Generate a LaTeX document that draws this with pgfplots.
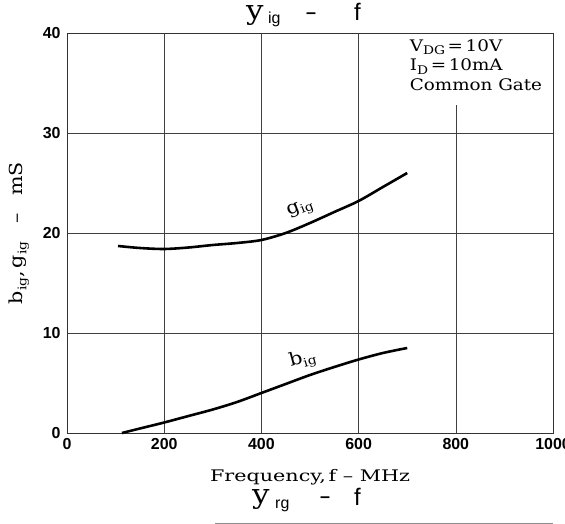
\documentclass[border=0pt]{standalone}
\usepackage{fontspec}
\setmainfont{DejaVu Serif}[FakeStretch=1.15]
\setsansfont{Liberation Sans}
\usepackage{pgfplots}
\pgfplotsset{compat=1.18}

\newcommand\sub[1]{\raisebox{-0.4ex}{\fontsize{12}{12}\selectfont #1}}

\begin{document}
\begin{tikzpicture}
\useasboundingbox (0,0) rectangle (565bp,524bp);
\begin{axis}[
    at={(67bp,91bp)}, anchor=south west,
    scale only axis,
    width=486bp, height=400bp,
    xmin=0, xmax=1000, ymin=0, ymax=40,
    xtick={0,200,...,1000}, ytick={0,10,...,40},
    grid=major,
    major grid style={black!75, line width=0.6pt},
    axis line style={black!80, line width=0.7pt},
    major tick length=0pt,
    tick label style={font=\sffamily\bfseries\fontsize{16}{16}\selectfont},
    /pgf/number format/assume math mode=true,
    /pgf/number format/1000 sep={},
    xticklabel style={yshift=-2bp},
    yticklabel style={xshift=-3bp},
    clip=false]

    % g_ig
    \addplot[black, line width=2.6pt, smooth] coordinates {
        (105,18.7) (150,18.5) (200,18.4) (250,18.55) (300,18.8) (350,19.0)
        (400,19.3) (450,20.0) (500,21.0) (550,22.1) (600,23.2) (650,24.6) (700,26.0)
    };
    % b_ig
    \addplot[black, line width=2.6pt, smooth] coordinates {
        (113,0) (150,0.45) (200,1.05) (250,1.7) (300,2.35) (350,3.1)
        (400,4.0) (450,4.9) (500,5.8) (550,6.6) (600,7.35) (650,8.0) (700,8.5)
    };

    \node[rotate=21, font=\fontsize{18}{18}\selectfont] at (axis cs:480,22.4) {g\sub{ig}};
    \node[rotate=15, font=\fontsize{18}{18}\selectfont] at (axis cs:485,7.3) {b\sub{ig}};

    \fill[white] (axis cs:700,32.8) rectangle (axis cs:996,39.85);
    \node[anchor=north west, align=left, inner sep=0pt,
          font=\fontsize{16}{20}\selectfont] at (axis cs:705,39.4)
        {V\sub{DG}\,=\,10V\\ I\sub{D}\,=\,10mA\\ Common Gate};
\end{axis}

\node[anchor=base, font=\fontsize{16}{16}\selectfont, inner sep=0pt]
    at (310bp,42bp) {\addfontfeature{FakeStretch=1.3}Frequency,\,f -- MHz};
\node[rotate=90, font=\fontsize{18}{18}\selectfont] at (19bp,291bp)
    {b\sub{ig},\,g\sub{ig}\quad --\quad mS};

% title of this chart
\node[anchor=base west, inner sep=0pt, font=\fontsize{27}{27}\selectfont] at (246bp,504bp) {y};
\node[anchor=base west, inner sep=0pt, font=\sffamily\fontsize{16}{16}\selectfont] at (268bp,500bp) {ig};
\node[inner sep=0pt, font=\sffamily\bfseries\fontsize{18}{18}\selectfont] at (311bp,508bp) {--};
\node[anchor=base west, inner sep=0pt, font=\sffamily\fontsize{24}{24}\selectfont] at (354bp,503bp) {f};

% title of the chart below
\node[anchor=base west, inner sep=0pt, font=\fontsize{27}{27}\selectfont] at (252bp,21bp) {y};
\node[anchor=base west, inner sep=0pt, font=\sffamily\fontsize{16}{16}\selectfont] at (275bp,16bp) {rg};
\node[inner sep=0pt, font=\sffamily\bfseries\fontsize{18}{18}\selectfont] at (325bp,24bp) {--};
\node[anchor=base west, inner sep=0pt, font=\sffamily\fontsize{24}{24}\selectfont] at (354bp,19bp) {f};
\draw[black!45, line width=0.6pt] (215bp,0.5bp) -- (553bp,0.5bp);
\end{tikzpicture}
\end{document}
